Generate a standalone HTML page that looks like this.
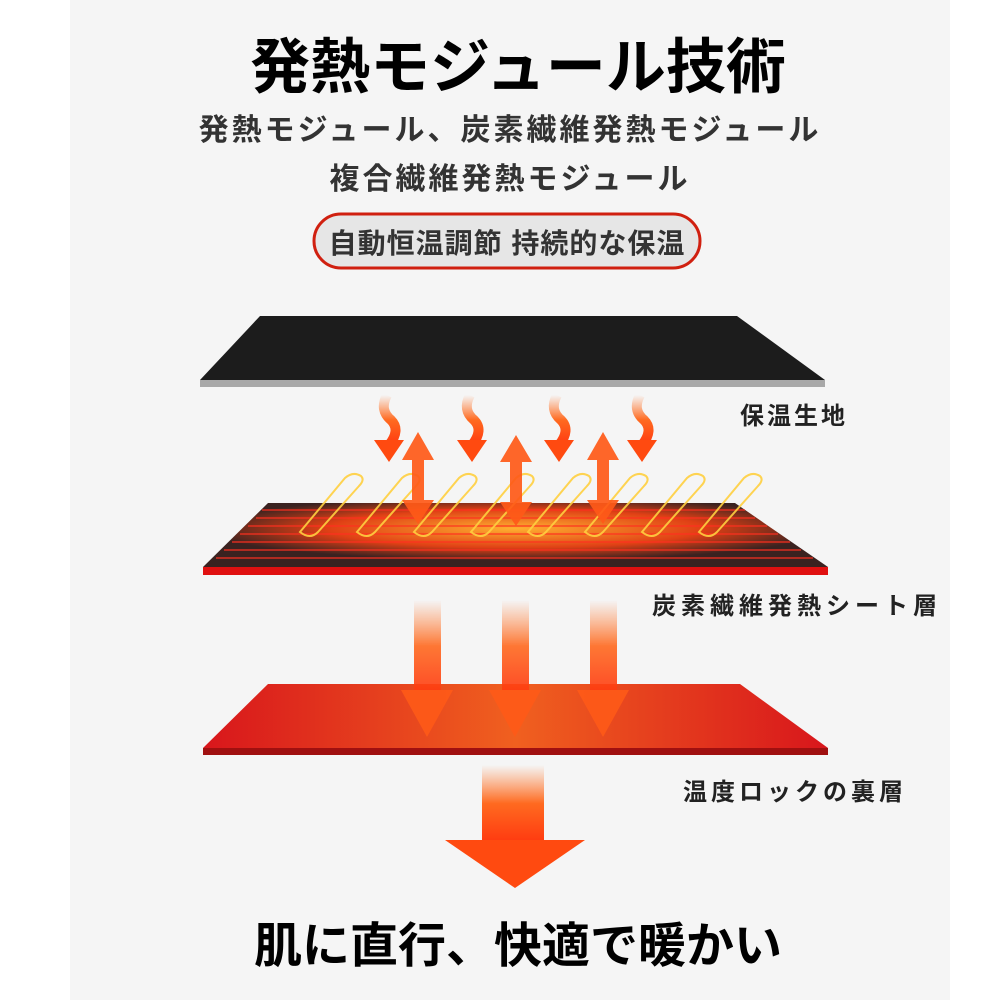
<!DOCTYPE html>
<html><head><meta charset="utf-8"><style>
body{margin:0;width:1000px;height:1000px;background:#fff;overflow:hidden;font-family:"Liberation Sans","Noto Sans CJK JP",sans-serif}
svg{display:block}
</style></head><body>
<svg width="1000" height="1000" viewBox="0 0 1000 1000" xmlns="http://www.w3.org/2000/svg">
<defs>
<linearGradient id="vg" x1="0" y1="0" x2="0" y2="1"><stop offset="0" stop-color="#ff7a30" stop-opacity="0"/><stop offset="0.5" stop-color="#ff6a20"/><stop offset="1" stop-color="#ff3a10"/></linearGradient>
<linearGradient id="rg" x1="0" y1="0" x2="1" y2="0"><stop offset="0" stop-color="#d8161c"/><stop offset="0.5" stop-color="#f0601f"/><stop offset="1" stop-color="#d8161c"/></linearGradient>
<radialGradient id="hg" cx="0.5" cy="0.4" r="0.5"><stop offset="0" stop-color="#ffb030"/><stop offset="0.6" stop-color="#e04015"/><stop offset="1" stop-color="#3a2220"/></radialGradient>
</defs>
<rect x="70" y="0" width="880" height="1000" fill="#f5f5f5"/>
<text x="518" y="88" font-size="60" font-weight="bold" text-anchor="middle" fill="#000">発熱モジュール技術</text>
<text x="510" y="140" font-size="30" font-weight="bold" text-anchor="middle" fill="#333" letter-spacing="3">発熱モジュール、炭素繊維発熱モジュール</text>
<text x="510" y="189" font-size="30" font-weight="bold" text-anchor="middle" fill="#333" letter-spacing="3">複合繊維発熱モジュール</text>
<rect x="314" y="214" width="386" height="54" rx="27" fill="#e6e6e6" stroke="#d02010" stroke-width="3"/>
<text x="507" y="253" font-size="28" font-weight="bold" text-anchor="middle" fill="#333" letter-spacing="1">自動恒温調節 持続的な保温</text>
<!-- black sheet -->
<polygon points="260,316 737,316 825,380 200,380" fill="#1c1c1c"/>
<rect x="200" y="380" width="625" height="7" fill="#a8a8a8"/>
<!-- wavy arrows down -->
<g fill="none" stroke="url(#vg)" stroke-width="10">
<path d="M387,395 q-8,15 4,25 q10,10 -2,25"/><path d="M470,395 q-8,15 4,25 q10,10 -2,25"/>
<path d="M557,395 q-8,15 4,25 q10,10 -2,25"/><path d="M640,395 q-8,15 4,25 q10,10 -2,25"/>
</g>
<g fill="#ff4a10">
<polygon points="374,440 404,440 389,462"/><polygon points="457,440 487,440 472,462"/>
<polygon points="544,440 574,440 559,462"/><polygon points="627,440 657,440 642,462"/>
</g>
<!-- heating sheet -->
<polygon points="268,503 735,503 828,567 203,567" fill="url(#hg)"/>
<g stroke="#ff3020" stroke-width="1.5" opacity="0.8">
<line x1="262" y1="510" x2="745" y2="510"/><line x1="256" y1="518" x2="755" y2="518"/><line x1="248" y1="526" x2="767" y2="526"/><line x1="240" y1="534" x2="778" y2="534"/><line x1="232" y1="542" x2="790" y2="542"/><line x1="224" y1="550" x2="801" y2="550"/><line x1="216" y1="558" x2="813" y2="558"/>
</g>
<g fill="none" stroke="#ffd040" stroke-width="2" opacity="0.9">
<path d="M300,532 L345,478 q8,-7 16,-2 q4,4 -2,10 L318,532 q-8,8 -18,0z"/><path d="M357,532 L402,478 q8,-7 16,-2 q4,4 -2,10 L375,532 q-8,8 -18,0z"/><path d="M414,532 L459,478 q8,-7 16,-2 q4,4 -2,10 L432,532 q-8,8 -18,0z"/><path d="M471,532 L516,478 q8,-7 16,-2 q4,4 -2,10 L489,532 q-8,8 -18,0z"/><path d="M528,532 L573,478 q8,-7 16,-2 q4,4 -2,10 L546,532 q-8,8 -18,0z"/><path d="M585,532 L630,478 q8,-7 16,-2 q4,4 -2,10 L603,532 q-8,8 -18,0z"/><path d="M642,532 L687,478 q8,-7 16,-2 q4,4 -2,10 L660,532 q-8,8 -18,0z"/><path d="M699,532 L744,478 q8,-7 16,-2 q4,4 -2,10 L717,532 q-8,8 -18,0z"/>
</g>
<rect x="203" y="567" width="625" height="8" fill="#e01010"/>
<!-- double arrows -->
<g fill="#ff5a18" opacity="0.92">
<polygon points="418,432 434,460 424,460 424,500 434,500 418,524 402,500 412,500 412,460 402,460"/>
<polygon points="516,435 532,462 522,462 522,502 532,502 516,526 500,502 510,502 510,462 500,462"/>
<polygon points="603,432 619,460 609,460 609,500 619,500 603,524 587,500 597,500 597,460 587,460"/>
</g>
<!-- red sheet -->
<polygon points="268,684 740,684 828,748 203,748" fill="url(#rg)"/>
<rect x="203" y="748" width="625" height="7" fill="#a01010"/>
<!-- three arrows down (over sheet) -->
<g opacity="0.9">
<rect x="414" y="600" width="27" height="92" fill="url(#vg)"/><polygon points="401,690 453,690 427,737" fill="#ff5a18"/>
<rect x="502" y="600" width="27" height="92" fill="url(#vg)"/><polygon points="489,690 541,690 515,737" fill="#ff5a18"/>
<rect x="590" y="600" width="27" height="92" fill="url(#vg)"/><polygon points="577,690 629,690 603,737" fill="#ff5a18"/>
</g>
<!-- big arrow -->
<rect x="482" y="765" width="62" height="77" fill="url(#vg)"/>
<polygon points="445,840 585,840 515,888" fill="#ff4a10"/>
<g font-size="24" font-weight="bold" fill="#222">
<text x="740" y="424" letter-spacing="3">保温生地</text>
<text x="652" y="614" letter-spacing="5">炭素繊維発熱シート層</text>
<text x="683" y="800" letter-spacing="4">温度ロックの裏層</text>
</g>
<text x="518" y="962" font-size="48" font-weight="bold" text-anchor="middle" fill="#000">肌に直行、快適で暖かい</text>
</svg>
</body></html>
